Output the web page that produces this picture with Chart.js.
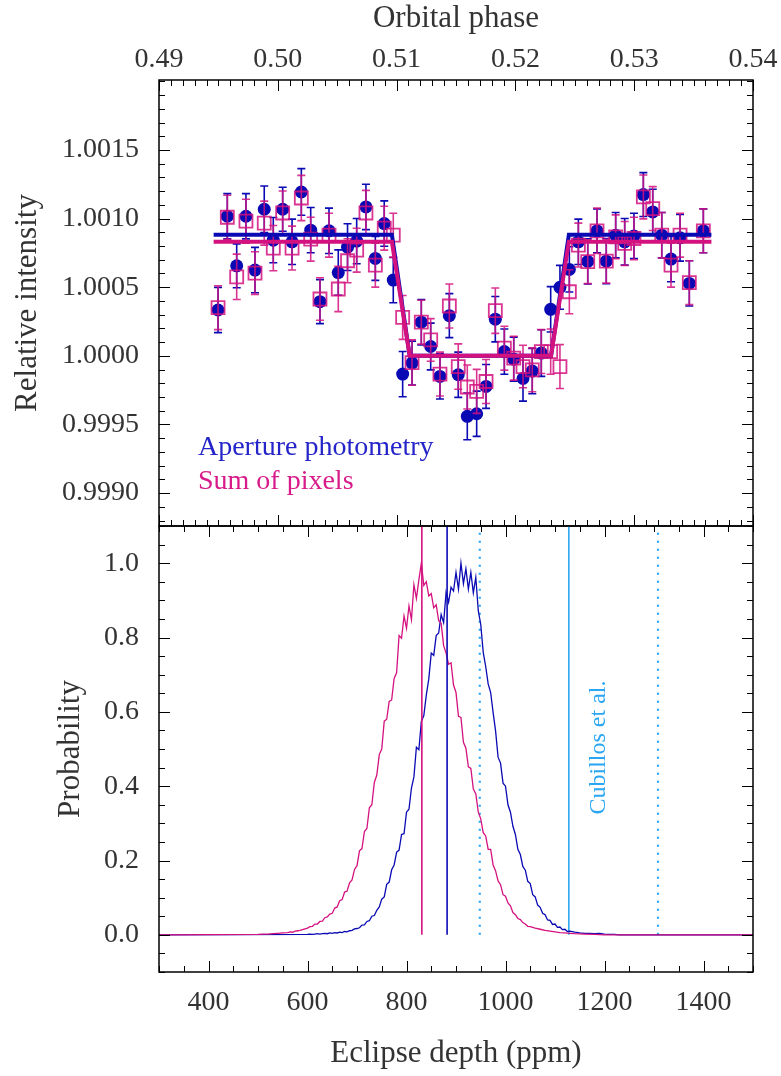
<!DOCTYPE html>
<html>
<head>
<meta charset="utf-8">
<title>Eclipse depth</title>
<script src="https://cdn.jsdelivr.net/npm/chart.js@4.4.1/dist/chart.umd.min.js"></script>
<style>
  body { margin: 0; background: #fff; }
  #wrap { position: relative; width: 781px; height: 1076px; }
  canvas { position: absolute; left: 0; }
  #top { top: 0; }
  #bottom { top: 525px; }
</style>
</head>
<body>
<div id="wrap">
  <canvas id="top" width="781" height="527" style="width:781px;height:527px"></canvas>
  <canvas id="bottom" width="781" height="551" style="width:781px;height:551px"></canvas>
</div>
<script>
// ---- light curve (top panel) ----
const phase = [0.49497, 0.49575, 0.49654, 0.49732, 0.49808, 0.49886, 0.49962, 0.50041, 0.50120, 0.50198,
  0.50277, 0.50355, 0.50431, 0.50509, 0.50587, 0.50664, 0.50742, 0.50821, 0.50896, 0.50972,
  0.51051, 0.51130, 0.51208, 0.51287, 0.51365, 0.51444, 0.51519, 0.51595, 0.51674, 0.51753,
  0.51831, 0.51907, 0.51986, 0.52064, 0.52142, 0.52218, 0.52297, 0.52375, 0.52454, 0.52530,
  0.52609, 0.52687, 0.52765, 0.52844, 0.52920, 0.52998, 0.53077, 0.53156, 0.53232, 0.53310,
  0.53386, 0.53464, 0.53582]
const apFlux = [1.000334, 1.001017, 1.000656, 1.001017, 1.000625, 1.001068, 1.000843, 1.001068, 1.000831, 1.001194,
  1.000916, 1.000395, 1.000911, 1.000607, 1.000792, 1.000836, 1.001085, 1.000710, 1.000964, 1.000552,
  0.999867, 0.999947, 1.000245, 1.000068, 0.999850, 1.000293, 0.999862, 0.999559, 0.999578, 0.999777,
  1.000267, 1.000031, 0.999976, 0.999835, 0.999889, 1.000020, 1.000339, 1.000499, 1.000630, 1.000831,
  1.000688, 1.000911, 1.000690, 1.000879, 1.000831, 1.000874, 1.001175, 1.001049, 1.000879, 1.000705,
  1.000860, 1.000528, 1.000911]
const apErr = [0.000165, 0.000165, 0.000160, 0.000165, 0.000165, 0.000170, 0.000165, 0.000160, 0.000165, 0.000170,
  0.000165, 0.000160, 0.000165, 0.000165, 0.000170, 0.000165, 0.000165, 0.000160, 0.000165, 0.000165,
  0.000165, 0.000160, 0.000165, 0.000170, 0.000165, 0.000160, 0.000165, 0.000170, 0.000165, 0.000160,
  0.000165, 0.000165, 0.000160, 0.000165, 0.000165, 0.000170, 0.000165, 0.000160, 0.000165, 0.000165,
  0.000165, 0.000160, 0.000165, 0.000165, 0.000170, 0.000165, 0.000160, 0.000165, 0.000165, 0.000165,
  0.000170, 0.000165, 0.000160]
const sumFlux = [1.000351, 1.001010, 1.000576, 1.000981, 1.000603, 1.000967, 1.000785, 1.001041, 1.000785, 1.001150,
  1.000850, 1.000414, 1.000879, 1.000487, 1.000693, 1.000770, 1.001041, 1.000661, 1.000930, 1.000879,
  1.000280, 0.999951, 1.000245, 1.000116, 0.999867, 1.000363, 0.999922, 0.999773, 0.999741, 0.999813,
  1.000329, 1.000056, 0.999983, 0.999922, 0.999898, 1.000031, 1.000031, 0.999922, 1.000467, 1.000807,
  1.000686, 1.000911, 1.000690, 1.000867, 1.000819, 1.000855, 1.001158, 1.001073, 1.000879, 1.000661,
  1.000879, 1.000533, 1.000911]
const sumErr = [0.000160, 0.000160, 0.000165, 0.000160, 0.000155, 0.000160, 0.000165, 0.000160, 0.000160, 0.000165,
  0.000160, 0.000155, 0.000160, 0.000165, 0.000160, 0.000160, 0.000165, 0.000160, 0.000160, 0.000160,
  0.000160, 0.000165, 0.000160, 0.000155, 0.000160, 0.000160, 0.000165, 0.000160, 0.000160, 0.000160,
  0.000165, 0.000160, 0.000160, 0.000155, 0.000160, 0.000160, 0.000165, 0.000160, 0.000160, 0.000160,
  0.000160, 0.000165, 0.000160, 0.000160, 0.000160, 0.000155, 0.000160, 0.000160, 0.000165, 0.000160,
  0.000160, 0.000160, 0.000160]
// eclipse models
const fitPhase = [0.4946, 0.5096, 0.5111, 0.5230, 0.5245, 0.5365]
const apFit = [1.000882, 1.000882, 1.0, 1.0, 1.000882, 1.000882]
const sumFit = [1.000831, 1.000831, 1.0, 1.0, 1.000831, 1.000831]
const phaseTicks = [0.49, 0.50, 0.51, 0.52, 0.53, 0.54]
const fluxTicks = [0.9990, 0.9995, 1.0000, 1.0005, 1.0010, 1.0015]

// ---- posterior distributions (bottom panel) ----
const apBins = [300, 600, 605, 610, 615, 620, 625, 630, 635, 640, 645, 650, 655, 660, 665, 670, 675, 680, 685, 690, 695,
  700, 705, 710, 715, 720, 725, 730, 735, 740, 745, 750, 755, 760, 765, 770, 775, 780, 785, 790, 795,
  800, 805, 810, 815, 820, 825, 830, 835, 840, 845, 850, 855, 860, 865, 870, 875, 880, 885, 890, 895,
  900, 905, 910, 915, 920, 925, 930, 935, 940, 945, 950, 955, 960, 965, 970, 975, 980, 985, 990, 995,
  1000, 1005, 1010, 1015, 1020, 1025, 1030, 1035, 1040, 1045, 1050, 1055, 1060, 1065, 1070, 1075, 1080, 1085, 1090, 1095,
  1100, 1105, 1110, 1115, 1120, 1125, 1130, 1140, 1150, 1160, 1170, 1180, 1190, 1200, 1210, 1220, 1230, 1500]
const apProb = [0, 0.001, 0.002, 0.001, 0.002, 0.003, 0.002, 0.003, 0.004, 0.003, 0.005, 0.004, 0.006, 0.005, 0.007, 0.006, 0.009, 0.008, 0.011, 0.012, 0.016,
  0.017, 0.019, 0.026, 0.027, 0.036, 0.038, 0.050, 0.052, 0.066, 0.075, 0.096, 0.102, 0.136, 0.142, 0.175, 0.188, 0.222, 0.228, 0.270, 0.272,
  0.330, 0.338, 0.395, 0.425, 0.505, 0.498, 0.575, 0.590, 0.645, 0.688, 0.758, 0.752, 0.805, 0.812, 0.862, 0.840, 0.922, 0.895, 0.935, 0.925,
  0.975, 0.930, 1.000, 0.945, 0.985, 0.930, 0.975, 0.920, 0.962, 0.872, 0.835, 0.760, 0.722, 0.675, 0.652, 0.598, 0.548, 0.478, 0.462, 0.408,
  0.400, 0.350, 0.330, 0.292, 0.270, 0.230, 0.216, 0.184, 0.174, 0.144, 0.138, 0.108, 0.102, 0.080, 0.074, 0.058, 0.054, 0.040, 0.039, 0.028,
  0.029, 0.020, 0.021, 0.014, 0.015, 0.009, 0.010, 0.007, 0.005, 0.004, 0.004, 0.003, 0.004, 0.002, 0.001, 0.001, 0, 0]
const sumBins = [300, 500, 510, 520, 530, 540, 550, 560, 565, 570, 575, 580, 585, 590, 595,
  600, 605, 610, 615, 620, 625, 630, 635, 640, 645, 650, 655, 660, 665, 670, 675, 680, 685, 690, 695,
  700, 705, 710, 715, 720, 725, 730, 735, 740, 745, 750, 755, 760, 765, 770, 775, 780, 785, 790, 795,
  800, 805, 810, 815, 820, 825, 830, 835, 840, 845, 850, 855, 860, 865, 870, 875, 880, 885, 890, 895,
  900, 905, 910, 915, 920, 925, 930, 935, 940, 945, 950, 955, 960, 965, 970, 975, 980, 985, 990, 995,
  1000, 1005, 1010, 1015, 1020, 1025, 1030, 1035, 1040, 1045, 1050, 1060, 1070, 1080, 1090,
  1100, 1110, 1120, 1130, 1140, 1160, 1180, 1200, 1500]
const sumProb = [0, 0.001, 0.002, 0.002, 0.003, 0.004, 0.005, 0.006, 0.008, 0.007, 0.010, 0.011, 0.012, 0.014, 0.016,
  0.018, 0.022, 0.023, 0.029, 0.029, 0.036, 0.037, 0.046, 0.048, 0.056, 0.058, 0.072, 0.075, 0.092, 0.095, 0.115, 0.118, 0.140, 0.148, 0.176,
  0.186, 0.226, 0.232, 0.278, 0.286, 0.342, 0.350, 0.410, 0.430, 0.485, 0.500, 0.575, 0.580, 0.628, 0.632, 0.690, 0.705, 0.805, 0.798, 0.858,
  0.825, 0.885, 0.848, 0.942, 0.905, 0.955, 1.000, 0.940, 0.950, 0.912, 0.918, 0.880, 0.888, 0.845, 0.838, 0.778, 0.758, 0.728, 0.732, 0.672,
  0.652, 0.588, 0.585, 0.518, 0.502, 0.452, 0.448, 0.392, 0.380, 0.330, 0.312, 0.275, 0.266, 0.230, 0.230, 0.188, 0.172, 0.145, 0.135, 0.108,
  0.104, 0.086, 0.078, 0.060, 0.054, 0.044, 0.041, 0.033, 0.029, 0.023, 0.022, 0.018, 0.015, 0.012, 0.010,
  0.008, 0.006, 0.005, 0.004, 0.003, 0.002, 0.001, 0, 0]
const apDepth = 882
const sumDepth = 831
const cubillosDepth = [948, 1128, 1308] // lower, best, upper
const depthTicks = [400, 600, 800, 1000, 1200, 1400]
const probTicks = [0.0, 0.2, 0.4, 0.6, 0.8, 1.0]

const BLUE = '#0a0ab4'
const MAGENTA = '#d4127f'
const CYAN = '#2aa6f2'
const TEXT = '#333333'
const SERIF = '"Liberation Serif", "DejaVu Serif", serif'

function range(start, stop, step) {
    const out = []
    for (let v = start; v <= stop + step / 2; v += step) out.push(v)
    return out
}
const pts = (xs, ys) => xs.map((x, i) => ({x: x, y: ys[i]}))

// no automatic label overhang padding: chart area is fixed by afterFit sizes
function noOverhang(s) {
    s.paddingTop = 0
    s.paddingBottom = 0
    s.paddingLeft = 0
    s.paddingRight = 0
}

// inward tick marks + box frame, drawn from the chart's own scales
const frameTicks = {
    id: 'frameTicks',
    afterDatasetsDraw(chart, args, o) {
        const {ctx, chartArea: a, scales} = chart
        ctx.save()
        ctx.strokeStyle = '#000'
        ctx.lineWidth = 1
        const mark = (vals, len, horiz) => {
            vals.forEach(v => {
                ctx.beginPath()
                if (horiz) {
                    const px = Math.round(scales.x.getPixelForValue(v)) + 0.5
                    if (px < a.left - 1 || px > a.right + 1) return
                    ctx.moveTo(px, a.top); ctx.lineTo(px, a.top + len)
                    ctx.moveTo(px, a.bottom); ctx.lineTo(px, a.bottom - len)
                } else {
                    const py = Math.round(scales.y.getPixelForValue(v)) + 0.5
                    if (py < a.top - 1 || py > a.bottom + 1) return
                    ctx.moveTo(a.left, py); ctx.lineTo(a.left + len, py)
                    ctx.moveTo(a.right, py); ctx.lineTo(a.right - len, py)
                }
                ctx.stroke()
            })
        }
        mark(o.xMinor, 6, true)
        mark(o.xMajor, 11, true)
        mark(o.yMinor, 6, false)
        mark(o.yMajor, 11, false)
        ctx.lineWidth = 1.5
        ctx.strokeRect(a.left, a.top, a.right - a.left, a.bottom - a.top)
        ctx.restore()
    }
}

// vertical error bars with caps, drawn under each dataset's markers
const errorBars = {
    id: 'errorBars',
    beforeDatasetDraw(chart, args) {
        const ds = chart.data.datasets[args.index]
        if (!ds.errors) return
        const {ctx, scales} = chart
        ctx.save()
        ctx.strokeStyle = ds.borderColor
        ctx.lineWidth = 1.6
        ds.data.forEach((p, i) => {
            const px = scales.x.getPixelForValue(p.x)
            const lo = scales.y.getPixelForValue(p.y - ds.errors[i])
            const hi = scales.y.getPixelForValue(p.y + ds.errors[i])
            ctx.beginPath()
            ctx.moveTo(px, lo); ctx.lineTo(px, hi)
            ctx.moveTo(px - 4, lo); ctx.lineTo(px + 4, lo)
            ctx.moveTo(px - 4, hi); ctx.lineTo(px + 4, hi)
            ctx.stroke()
        })
        ctx.restore()
    }
}

// free text placed in data coordinates
const notes = {
    id: 'notes',
    afterDatasetsDraw(chart, args, o) {
        const {ctx, scales} = chart
        o.items.forEach(it => {
            ctx.save()
            ctx.translate(scales.x.getPixelForValue(it.x), scales.y.getPixelForValue(it.y))
            if (it.rotate) ctx.rotate(it.rotate)
            ctx.font = it.size + 'px ' + SERIF
            ctx.fillStyle = it.color
            ctx.textAlign = it.align || 'left'
            ctx.textBaseline = 'alphabetic'
            ctx.fillText(it.text, 0, 0)
            ctx.restore()
        })
    }
}

Chart.register(frameTicks, errorBars, notes)
Chart.defaults.font.family = SERIF
Chart.defaults.color = TEXT
Chart.defaults.plugins.legend.display = false
Chart.defaults.plugins.tooltip.enabled = false
Chart.defaults.animation = false

const tickFont = {family: SERIF, size: 28}
const titleFont = {family: SERIF, size: 31}

const topChart = new Chart(document.getElementById('top'), {
    type: 'scatter',
    data: {
        datasets: [
            {data: pts(fitPhase, sumFit), showLine: true, borderColor: MAGENTA, borderWidth: 4, pointRadius: 0, order: 0},
            {data: pts(fitPhase, apFit), showLine: true, borderColor: BLUE, borderWidth: 4, pointRadius: 0, order: 1},
            {data: pts(phase, sumFlux), errors: sumErr, pointStyle: 'rect', pointRadius: 9.2, borderWidth: 1.8,
                borderColor: 'rgba(212,18,127,0.85)', backgroundColor: 'rgba(0,0,0,0)', order: 2},
            {data: pts(phase, apFlux), errors: apErr, pointStyle: 'circle', pointRadius: 6.5, borderWidth: 0,
                borderColor: BLUE, backgroundColor: BLUE, order: 3}
        ]
    },
    options: {
        responsive: false,
        devicePixelRatio: 1,
        layout: {autoPadding: false, padding: {left: 0, right: 28, top: 0, bottom: 1}},
        scales: {
            x: {
                type: 'linear', position: 'top', min: 0.49, max: 0.54,
                afterBuildTicks: s => { s.ticks = phaseTicks.map(v => ({value: v})) },
                afterFit: s => { s.height = 80; noOverhang(s) },
                grid: {display: false}, border: {display: false},
                ticks: {font: tickFont, color: TEXT, padding: -4, maxRotation: 0, autoSkip: false,
                    callback: v => v.toFixed(2)},
                title: {display: true, text: 'Orbital phase', font: titleFont, color: TEXT, padding: {top: 0, bottom: 0}}
            },
            y: {
                min: 0.99876, max: 1.00201,
                afterBuildTicks: s => { s.ticks = fluxTicks.map(v => ({value: v})) },
                afterFit: s => { s.width = 159; noOverhang(s) },
                grid: {display: false}, border: {display: false},
                ticks: {font: tickFont, color: TEXT, padding: 12, autoSkip: false, callback: v => v.toFixed(4)},
                title: {display: true, text: 'Relative intensity', font: titleFont, color: TEXT, padding: {top: 9, bottom: 0}}
            }
        },
        plugins: {
            frameTicks: {xMajor: phaseTicks, xMinor: range(0.49, 0.54, 0.001),
                yMajor: fluxTicks, yMinor: range(0.9988, 1.0020, 0.0001)},
            notes: {items: [
                {text: 'Aperture photometry', x: 0.49328, y: 0.99928, size: 28, color: '#2424c8'},
                {text: 'Sum of pixels', x: 0.49328, y: 0.999033, size: 28, color: '#d81b8a'}
            ]}
        }
    }
})

const vline = (x, color, width, dash) => ({
    data: [{x: x, y: 0}, {x: x, y: 1.1}], showLine: true, borderColor: color,
    borderWidth: width, borderDash: dash || [], pointRadius: 0
})

const bottomChart = new Chart(document.getElementById('bottom'), {
    type: 'scatter',
    data: {
        datasets: [
            Object.assign(vline(sumDepth, MAGENTA, 1.6), {order: 0}),
            Object.assign(vline(apDepth, BLUE, 1.6), {order: 1}),
            {data: pts(sumBins, sumProb), showLine: true, borderColor: MAGENTA, borderWidth: 1.3, pointRadius: 0, order: 2},
            {data: pts(apBins, apProb), showLine: true, borderColor: BLUE, borderWidth: 1.3, pointRadius: 0, order: 3},
            Object.assign(vline(cubillosDepth[0], CYAN, 2.2, [2, 6]), {order: 4}),
            Object.assign(vline(cubillosDepth[1], CYAN, 1.6), {order: 4}),
            Object.assign(vline(cubillosDepth[2], CYAN, 2.2, [2, 6]), {order: 4})
        ]
    },
    options: {
        responsive: false,
        devicePixelRatio: 1,
        layout: {autoPadding: false, padding: {left: 0, right: 28, top: 1, bottom: 0}},
        scales: {
            x: {
                type: 'linear', position: 'bottom', min: 300, max: 1500,
                afterBuildTicks: s => { s.ticks = depthTicks.map(v => ({value: v})) },
                afterFit: s => { s.height = 104; noOverhang(s) },
                grid: {display: false}, border: {display: false},
                ticks: {font: tickFont, color: TEXT, padding: 6, maxRotation: 0, autoSkip: false,
                    callback: v => String(v)},
                title: {display: true, text: 'Eclipse depth (ppm)', font: titleFont, color: TEXT, padding: {top: 0, bottom: 4}}
            },
            y: {
                min: -0.1, max: 1.1,
                afterBuildTicks: s => { s.ticks = probTicks.map(v => ({value: v})) },
                afterFit: s => { s.width = 159; noOverhang(s) },
                grid: {display: false}, border: {display: false},
                ticks: {font: tickFont, color: TEXT, padding: 12, autoSkip: false, callback: v => v.toFixed(1)},
                title: {display: true, text: 'Probability', font: titleFont, color: TEXT, padding: {top: 52, bottom: 0}}
            }
        },
        plugins: {
            frameTicks: {xMajor: depthTicks, xMinor: range(300, 1500, 50),
                yMajor: probTicks, yMinor: range(-0.1, 1.1, 0.05)},
            notes: {items: [
                {text: 'Cubillos et al.', x: 1201, y: 0.504, size: 24, color: CYAN, align: 'center', rotate: -Math.PI / 2}
            ]}
        }
    }
})
</script>
</body>
</html>
